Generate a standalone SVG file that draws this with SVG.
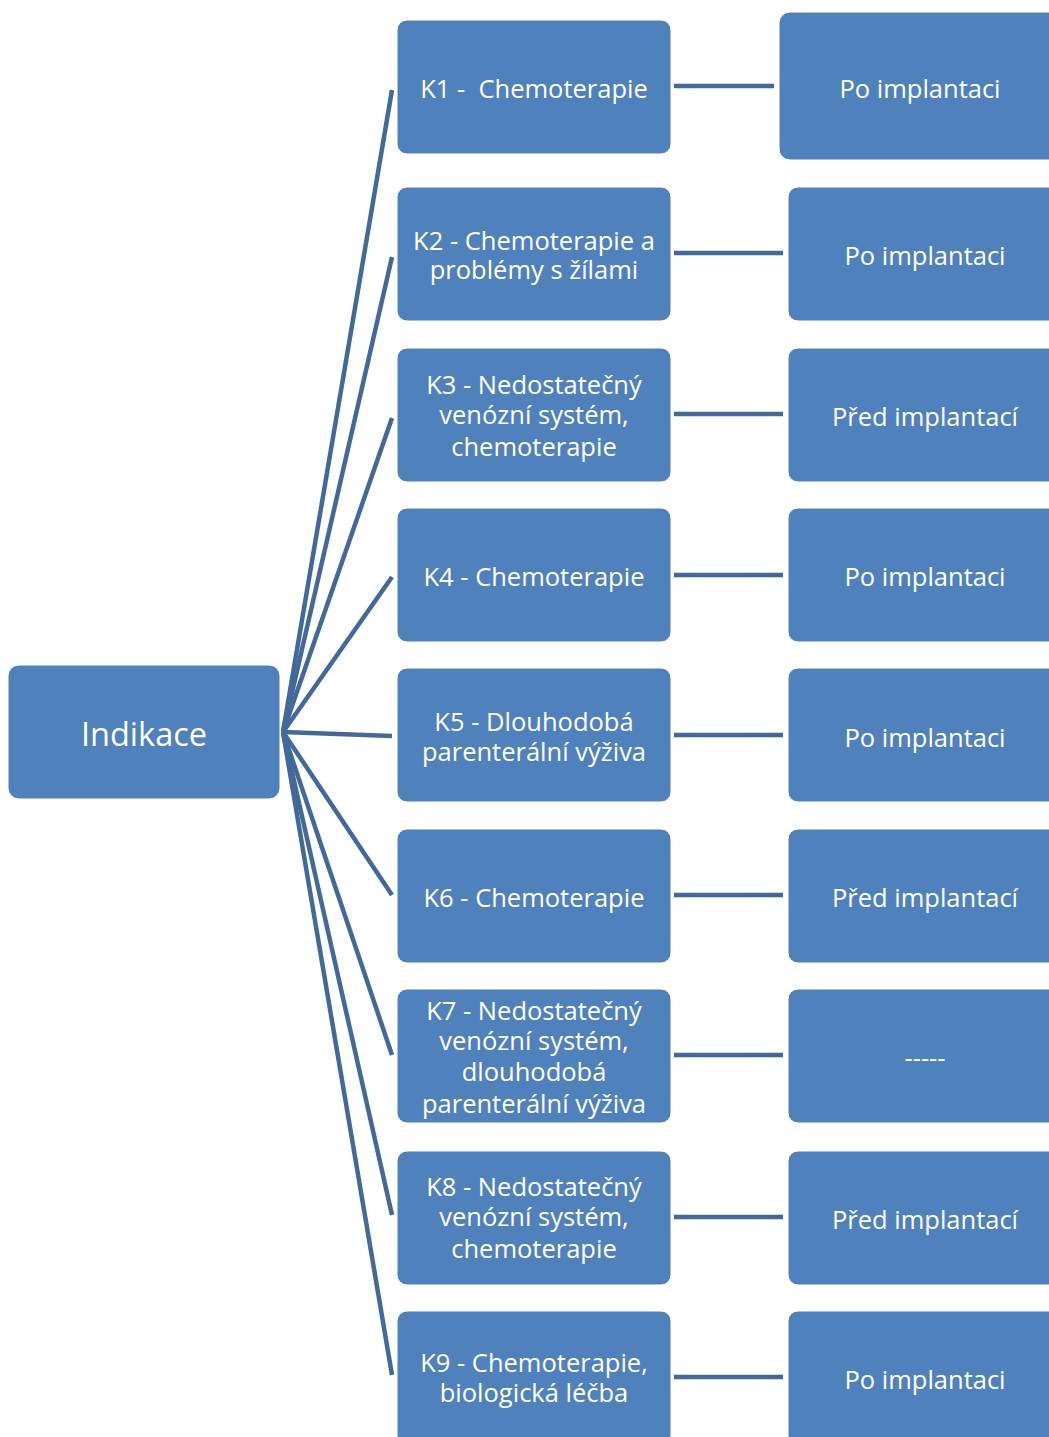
<svg xmlns="http://www.w3.org/2000/svg" width="1049" height="1437" viewBox="0 0 1049 1437">
  <style>
    .box { fill: #4F81BD; stroke: #ffffff; stroke-width: 1; }
    .lbl { fill: #ffffff; font-family: "Open Sans", "Noto Sans", "Liberation Sans", sans-serif; font-size: 25.5px; text-anchor: middle; dominant-baseline: central; }
    .big { font-size: 32.5px; }
    .link { stroke: #41699A; stroke-width: 4.5; fill: none; stroke-linecap: butt; }
  </style>
  <rect width="1049" height="1437" fill="#ffffff"/>

  <!-- connectors -->
  <g id="connectors">
    <path class="link" d="M283 732 L392 90"/>
    <path class="link" d="M283 732 L392 257"/>
    <path class="link" d="M283 732 L392 418"/>
    <path class="link" d="M283 732 L392 577"/>
    <path class="link" d="M283 732 L392 736"/>
    <path class="link" d="M283 732 L392 895"/>
    <path class="link" d="M283 732 L392 1055"/>
    <path class="link" d="M283 732 L392 1215"/>
    <path class="link" d="M283 732 L392 1375"/>
    <path class="link" d="M674 86 L774 86"/>
    <path class="link" d="M674 253 L783 253"/>
    <path class="link" d="M674 414 L783 414"/>
    <path class="link" d="M674 575 L783 575"/>
    <path class="link" d="M674 735 L783 735"/>
    <path class="link" d="M674 895 L783 895"/>
    <path class="link" d="M674 1055 L783 1055"/>
    <path class="link" d="M674 1217 L783 1217"/>
    <path class="link" d="M674 1377 L783 1377"/>
  </g>

  <!-- root -->
  <g id="indikace">
    <rect class="box" x="8" y="665" width="272" height="134" rx="11"/>
    <text class="lbl big" x="144" y="733">Indikace</text>
  </g>

  <!-- indications -->
  <g id="k1">
    <rect class="box" x="397" y="20" width="274" height="134" rx="10"/>
    <text class="lbl" x="534" y="88" xml:space="preserve">K1 -  Chemoterapie</text>
  </g>
  <g id="k2">
    <rect class="box" x="397" y="187" width="274" height="134" rx="10"/>
    <text class="lbl" x="534" y="240">K2 - Chemoterapie a</text>
    <text class="lbl" x="534" y="269">problémy s žílami</text>
  </g>
  <g id="k3">
    <rect class="box" x="397" y="348" width="274" height="134" rx="10"/>
    <text class="lbl" x="534" y="384">K3 - Nedostatečný</text>
    <text class="lbl" x="534" y="414">venózní systém,</text>
    <text class="lbl" x="534" y="446">chemoterapie</text>
  </g>
  <g id="k4">
    <rect class="box" x="397" y="508" width="274" height="134" rx="10"/>
    <text class="lbl" x="534" y="576">K4 - Chemoterapie</text>
  </g>
  <g id="k5">
    <rect class="box" x="397" y="668" width="274" height="134" rx="10"/>
    <text class="lbl" x="534" y="721">K5 - Dlouhodobá</text>
    <text class="lbl" x="534" y="751">parenterální výživa</text>
  </g>
  <g id="k6">
    <rect class="box" x="397" y="829" width="274" height="134" rx="10"/>
    <text class="lbl" x="534" y="897">K6 - Chemoterapie</text>
  </g>
  <g id="k7">
    <rect class="box" x="397" y="989" width="274" height="134" rx="10"/>
    <text class="lbl" x="534" y="1010">K7 - Nedostatečný</text>
    <text class="lbl" x="534" y="1040">venózní systém,</text>
    <text class="lbl" x="534" y="1071">dlouhodobá</text>
    <text class="lbl" x="534" y="1103">parenterální výživa</text>
  </g>
  <g id="k8">
    <rect class="box" x="397" y="1151" width="274" height="134" rx="10"/>
    <text class="lbl" x="534" y="1186">K8 - Nedostatečný</text>
    <text class="lbl" x="534" y="1216">venózní systém,</text>
    <text class="lbl" x="534" y="1248">chemoterapie</text>
  </g>
  <g id="k9">
    <rect class="box" x="397" y="1311" width="274" height="134" rx="10"/>
    <text class="lbl" x="534" y="1362">K9 - Chemoterapie,</text>
    <text class="lbl" x="534" y="1392">biologická léčba</text>
  </g>

  <!-- timing -->
  <g id="t1">
    <rect class="box" x="779" y="12" width="290" height="148" rx="11"/>
    <text class="lbl" x="920" y="88">Po implantaci</text>
  </g>
  <g id="t2">
    <rect class="box" x="788" y="187" width="280" height="134" rx="10"/>
    <text class="lbl" x="925" y="255">Po implantaci</text>
  </g>
  <g id="t3">
    <rect class="box" x="788" y="348" width="280" height="134" rx="10"/>
    <text class="lbl" x="925" y="416">Před implantací</text>
  </g>
  <g id="t4">
    <rect class="box" x="788" y="508" width="280" height="134" rx="10"/>
    <text class="lbl" x="925" y="576">Po implantaci</text>
  </g>
  <g id="t5">
    <rect class="box" x="788" y="668" width="280" height="134" rx="10"/>
    <text class="lbl" x="925" y="737">Po implantaci</text>
  </g>
  <g id="t6">
    <rect class="box" x="788" y="829" width="280" height="134" rx="10"/>
    <text class="lbl" x="925" y="897">Před implantací</text>
  </g>
  <g id="t7">
    <rect class="box" x="788" y="989" width="280" height="134" rx="10"/>
    <text class="lbl" x="925" y="1057">-----</text>
  </g>
  <g id="t8">
    <rect class="box" x="788" y="1151" width="280" height="134" rx="10"/>
    <text class="lbl" x="925" y="1219">Před implantací</text>
  </g>
  <g id="t9">
    <rect class="box" x="788" y="1311" width="280" height="134" rx="10"/>
    <text class="lbl" x="925" y="1379">Po implantaci</text>
  </g>
</svg>
